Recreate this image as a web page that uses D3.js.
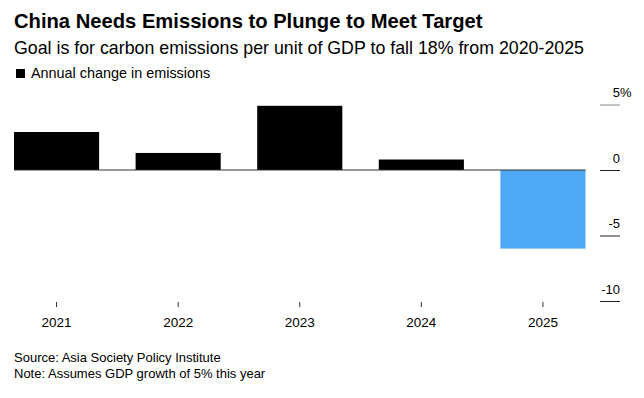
<!DOCTYPE html>
<html>
<head>
<meta charset="utf-8">
<script src="https://cdn.jsdelivr.net/npm/d3@7"></script>
<style>
  body { margin: 0; background: #fff; }
  svg { font-family: "Liberation Sans", Arial, Helvetica, sans-serif; display: block; }
</style>
</head>
<body>
<svg id="chart"></svg>
<script>
var width = 644,
    height = 398;

// data
var years = ["2021", "2022", "2023", "2024", "2025"];
var changes = [2.9, 1.3, 4.9, 0.8, -6.0];   // annual change in emissions, %
var projected = [false, false, false, false, true];
var yTicks = [5, 0, -5, -10];

var svg = d3.select("#chart").attr("width", width).attr("height", height);

// headings
svg.append("text")
    .attr("x", 14).attr("y", 28)
    .style("font-size", "20.2px").style("font-weight", "bold").style("fill", "#000")
    .text("China Needs Emissions to Plunge to Meet Target");

svg.append("text")
    .attr("x", 14).attr("y", 54)
    .style("font-size", "17.8px").style("fill", "#000")
    .text("Goal is for carbon emissions per unit of GDP to fall 18% from 2020-2025");

// legend
svg.append("rect")
    .attr("x", 16).attr("y", 69).attr("width", 9).attr("height", 9)
    .attr("fill", "#000");
svg.append("text")
    .attr("x", 31).attr("y", 78)
    .style("font-size", "14.4px").style("fill", "#000")
    .text("Annual change in emissions");

var x = d3.scaleBand()
    .domain(years)
    .range([14, 585.5])
    .paddingInner(0.3)
    .paddingOuter(0);

var y = d3.scaleLinear()
    .domain([-10, 5])
    .range([301, 104.5]);

// bars
svg.append("g").selectAll("rect")
    .data(years)
    .enter()
    .append("rect")
    .attr("x", function(d) { return x(d); })
    .attr("width", x.bandwidth())
    .attr("y", function(d, i) { return y(Math.max(0, changes[i])); })
    .attr("height", function(d, i) { return Math.abs(y(changes[i]) - y(0)); })
    .attr("fill", function(d, i) { return projected[i] ? "#4eaaf7" : "#000"; });

// zero baseline across the bars
svg.append("line")
    .attr("x1", 14).attr("x2", 585.5)
    .attr("y1", y(0)).attr("y2", y(0))
    .attr("stroke", "#333").attr("stroke-width", 1);

// y axis on the right, labels sit above short tick lines
var yAxis = svg.append("g")
    .attr("transform", "translate(600,0)")
    .call(d3.axisRight(y).tickValues(yTicks).tickSize(20).tickFormat(function(d) { return d; }));

yAxis.select(".domain").remove();
yAxis.selectAll(".tick line")
    .attr("stroke", function(d) { return d === 5 ? "#888" : "#222"; });
yAxis.selectAll(".tick text")
    .attr("x", 20).attr("y", -8).attr("dy", null)
    .attr("text-anchor", "end")
    .style("font-size", "13px").style("fill", "#000")
    .style("font-family", "\"Liberation Sans\", Arial, Helvetica, sans-serif");
yAxis.selectAll(".tick")
    .filter(function(d) { return d === 5; })
    .append("text")
    .attr("x", 20).attr("y", -8)
    .attr("text-anchor", "start")
    .style("font-size", "13px").style("fill", "#000")
    .style("font-family", "\"Liberation Sans\", Arial, Helvetica, sans-serif")
    .text("%");

// x axis: small ticks under bar centres
var xAxis = svg.append("g")
    .attr("transform", "translate(0,302)")
    .call(d3.axisBottom(x).tickSize(5).tickPadding(0));

xAxis.select(".domain").remove();
xAxis.selectAll(".tick line").attr("stroke", "#333");
xAxis.selectAll(".tick text")
    .attr("y", 25).attr("dy", null)
    .style("font-size", "13.5px").style("fill", "#000")
    .style("font-family", "\"Liberation Sans\", Arial, Helvetica, sans-serif");

// footnotes
svg.append("text")
    .attr("x", 14).attr("y", 362)
    .style("font-size", "13px").style("fill", "#000")
    .text("Source: Asia Society Policy Institute");
svg.append("text")
    .attr("x", 14).attr("y", 378)
    .style("font-size", "13px").style("fill", "#000")
    .text("Note: Assumes GDP growth of 5% this year");
</script>
</body>
</html>
